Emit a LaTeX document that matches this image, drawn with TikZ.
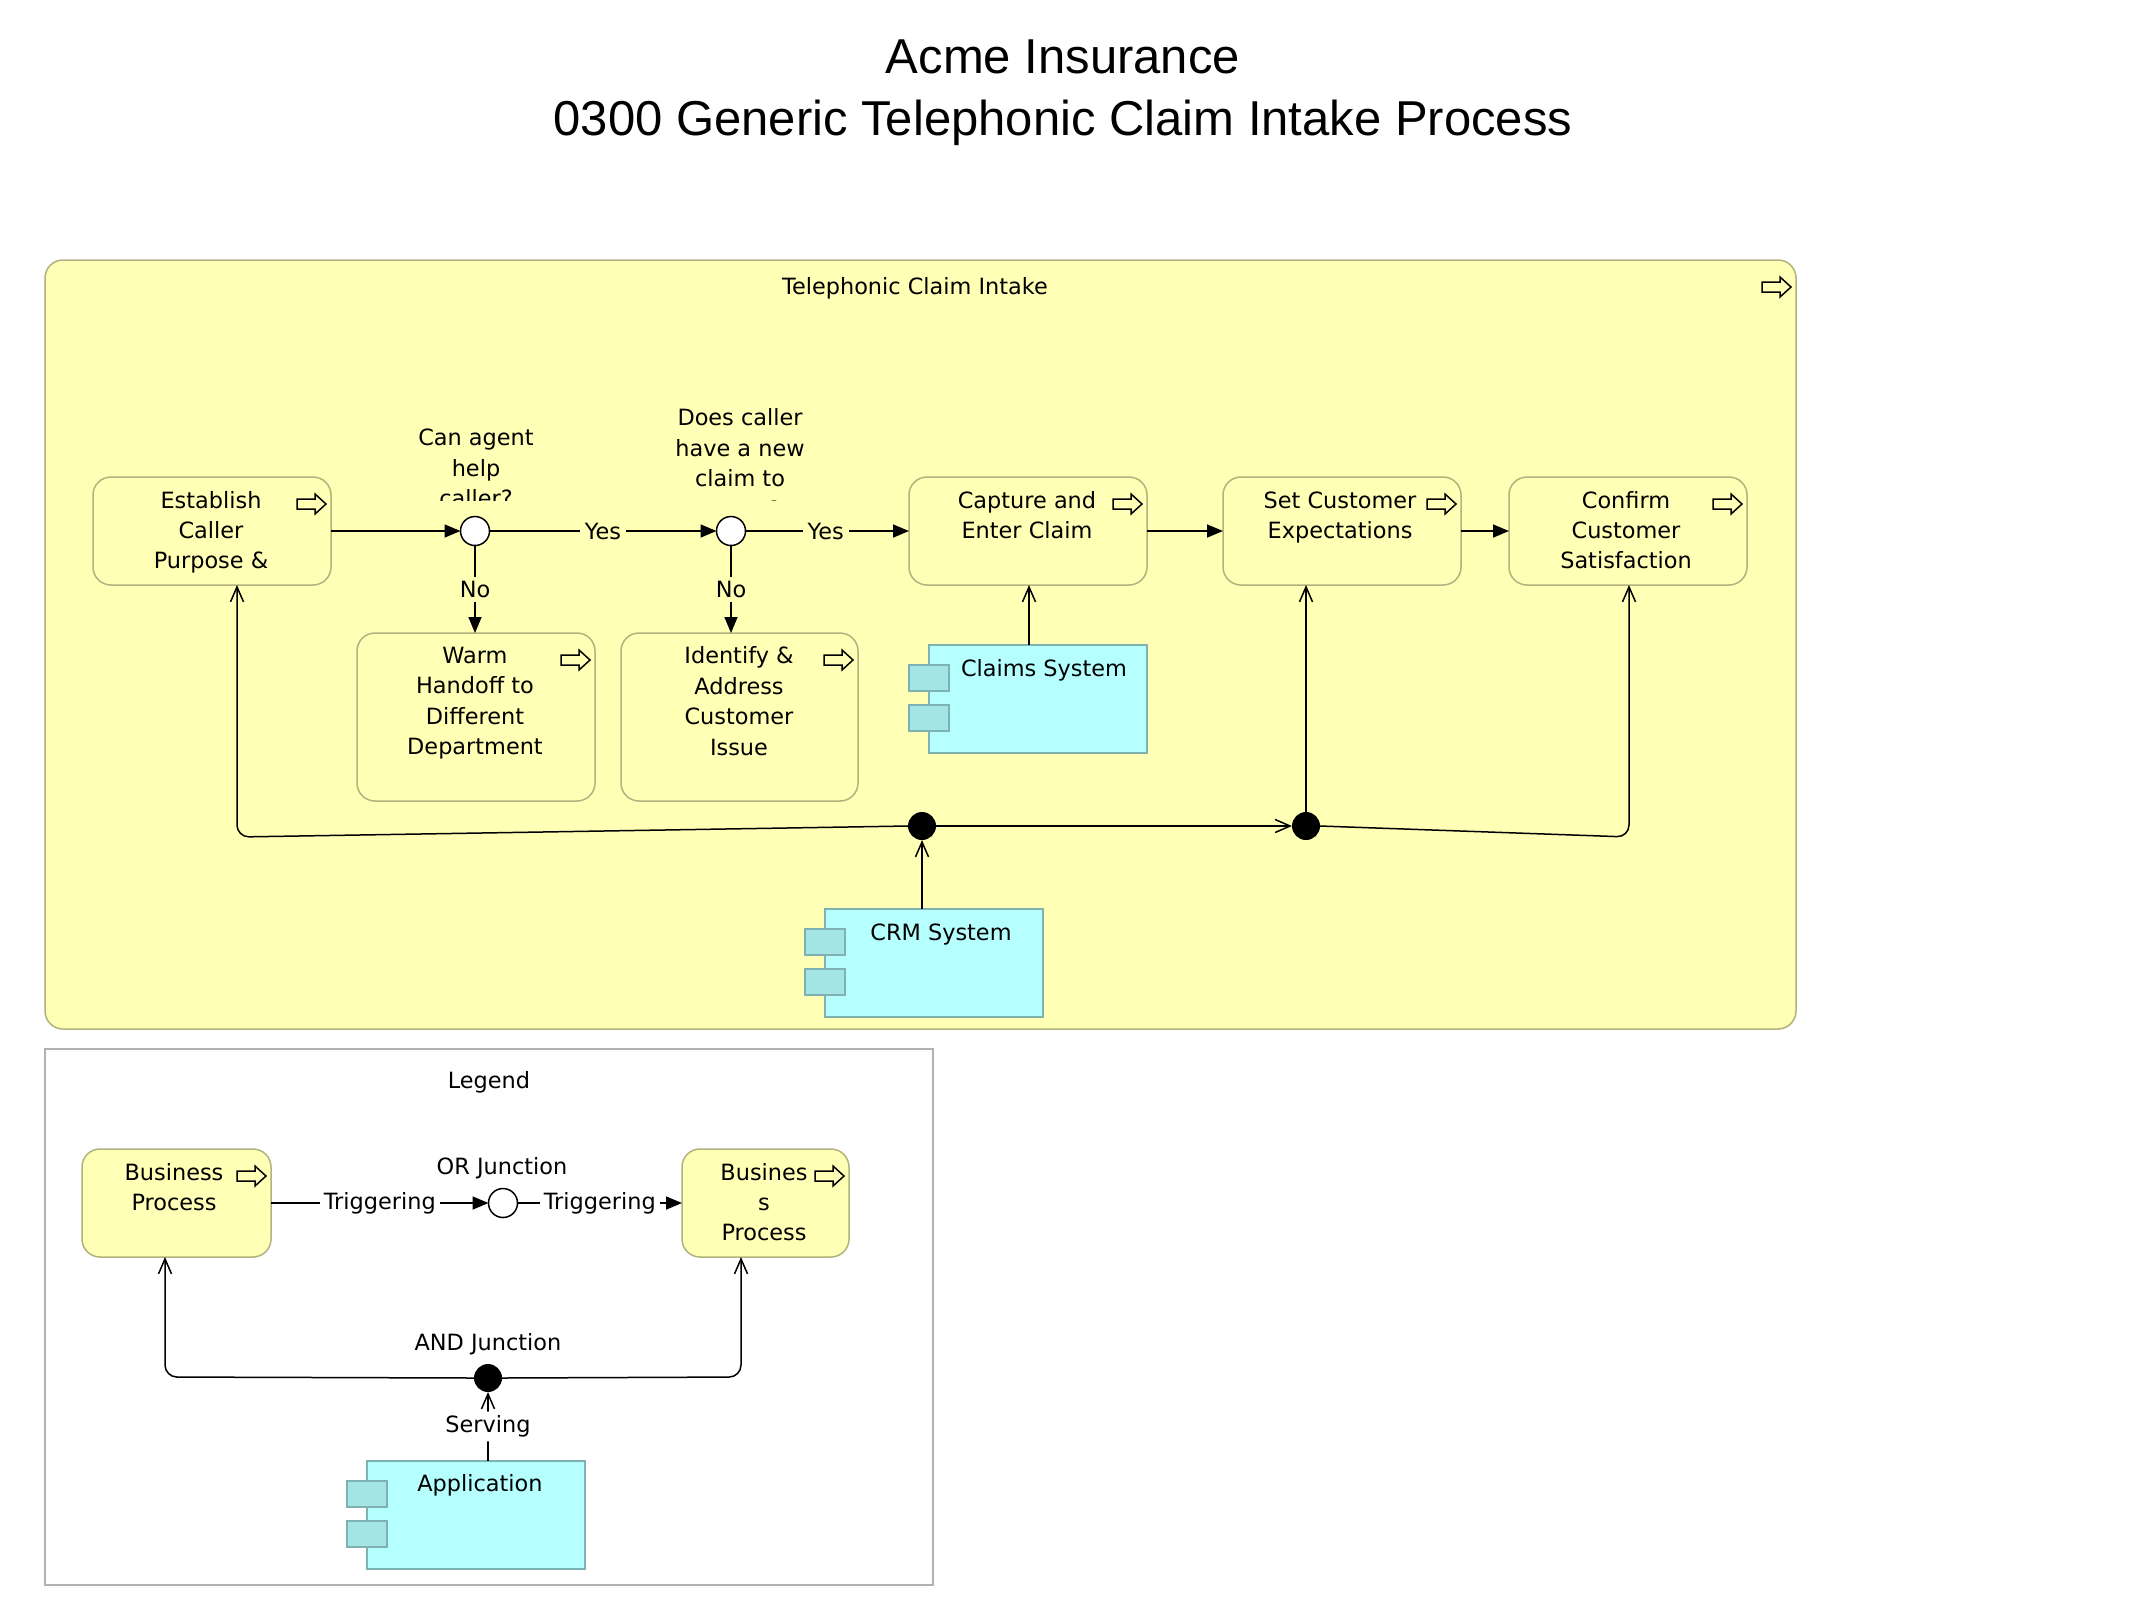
\documentclass[tikz,border=0pt]{standalone}
\usepackage{fontspec}
\setmainfont{DejaVu Sans}
\newfontfamily\titlefont{Liberation Sans}
\usetikzlibrary{arrows.meta,calc}
\definecolor{procfill}{HTML}{FFFFB5}
\definecolor{procline}{HTML}{B2B27E}
\definecolor{appfill}{HTML}{B5FFFF}
\definecolor{appline}{HTML}{7EB2B2}
\definecolor{tabfill}{HTML}{A3E5E5}
\definecolor{legline}{HTML}{B2B2B2}
\tikzset{
 areabox/.style={draw=procline,fill=procfill,line width=.75pt,rounded corners=9pt,inner sep=0pt,outer sep=0pt},
 legendbox/.style={draw=legline,fill=white,line width=.75pt,inner sep=0pt,outer sep=0pt},
 appbox/.style={draw=appline,fill=appfill,line width=.75pt,inner sep=0pt,outer sep=0pt},
 tabbox/.style={draw=appline,fill=tabfill,line width=.75pt,inner sep=0pt,outer sep=0pt},
 txt/.style={font=\fontsize{11.2pt}{15.2pt}\selectfont,align=center,inner sep=0pt,text depth=0pt},
 lab/.style={font=\fontsize{11.2pt}{15.2pt}\selectfont,fill=procfill,inner xsep=2.5pt,inner ysep=2pt},
 wlab/.style={lab,fill=white,inner xsep=2pt},
 orj/.style={circle,draw=black,fill=white,line width=.75pt,minimum size=14.5pt,inner sep=0pt,outer sep=0pt},
 andj/.style={circle,fill=black,minimum size=14pt,inner sep=0pt,outer sep=0pt},
 trig/.style={line width=.8pt,-{Triangle[length=8pt,width=6.5pt]}},
 serve/.style={line width=.75pt,-{Straight Barb[length=7.5pt,width=6.5pt]},rounded corners=6pt},
 plain/.style={line width=.75pt},
 icon/.style={draw=black,fill=procfill,line width=.75pt,line join=miter},
}
% name, x1,y1,x2,y2
\newcommand{\procbox}[5]{%
 \node[areabox,minimum width={(#4-#2)*0.5pt},minimum height={(#5-#3)*0.5pt}] (#1) at ({(#2+#4)/2},{(#3+#5)/2}) {};
 \begin{scope}[shift={(#1.north east)}]
  \path[icon] (-34,22) -- (-16,22) -- (-16,17) -- (-5,27) -- (-16,37) -- (-16,32) -- (-34,32) -- cycle;
 \end{scope}}
% name, x1(main left),y1,x2,y2
\newcommand{\compbox}[5]{%
 \node[appbox,minimum width={(#4-#2)*0.5pt},minimum height={(#5-#3)*0.5pt}] (#1) at ({(#2+#4)/2},{(#3+#5)/2}) {};
 \node[tabbox,minimum width=20.2pt,minimum height=13pt] (#1t1) at ({#2},{#3+33}) {};
 \node[tabbox,minimum width=20.2pt,minimum height=13pt] (#1t2) at ({#2},{#3+73}) {};}
\begin{document}
\begin{tikzpicture}[x=0.5pt,y=-0.5pt]
\useasboundingbox (0,0) rectangle (2130,1602);
\fill[white] (0,0) rectangle (2130,1602);
% title
\node[inner sep=0pt,align=center,font=\titlefont\fontsize{24.5pt}{31pt}\selectfont] (title) at (1063,93) {Acme Insurance\\0300 Generic Telephonic Claim Intake Process};
% main group
\procbox{frame}{45}{260}{1796}{1029}
\node[txt] (frametxt) at (915,286) {Telephonic Claim Intake};
% processes
\procbox{est}{93}{477}{331}{585}
\procbox{warm}{357}{633}{595}{801}
\procbox{iden}{621}{633}{858}{801}
\procbox{capt}{909}{477}{1147}{585}
\procbox{setc}{1223}{477}{1461}{585}
\procbox{conf}{1509}{477}{1747}{585}
\node[txt] (esttxt) at (211,530) {Establish\\Caller\\Purpose \&};
\node[txt] (warmtxt) at (475,701) {Warm\\Handoff to\\Different\\Department};
\node[txt] (identxt) at (739,701) {Identify \&\\Address\\Customer\\Issue};
\node[txt] (capttxt) at (1027,515) {Capture and\\Enter Claim};
\node[txt] (setctxt) at (1340,515) {Set Customer\\Expectations};
\node[txt] (conftxt) at (1626,530) {Confirm\\Customer\\Satisfaction};
% components
\compbox{claims}{929}{645}{1147}{753}
\node[txt] (claimstxt) at (1044,668) {Claims System};
\compbox{crm}{825}{909}{1043}{1017}
\node[txt] (crmtxt) at (941,932) {CRM System};
% junctions
\node[orj] (or1) at (475,531) {};
\node[orj] (or2) at (731,531) {};
\node[andj] (and1) at (922,826) {};
\node[andj] (and2) at (1306,826) {};
% clipped junction labels
\begin{scope}
 \clip (380,380) rectangle (860,500);
 \node[txt] (q1) at (476,468) {Can agent\\help\\caller?};
 \node[txt] (q2) at (740,463) {Does caller\\have a new\\claim to\\report?};
\end{scope}
% triggering
\draw[trig] (est.east) -- (or1.west);
\draw[trig] (or1.east) -- node[lab] (y1) {Yes} (or2.west);
\draw[trig] (or2.east) -- node[lab,pos=.49] (y2) {Yes} (capt.west);
\draw[trig] (or1.south) -- node[lab] (n1) {No} (or1|-warm.north);
\draw[trig] (or2.south) -- node[lab] (n2) {No} (or2|-iden.north);
\draw[trig] (capt.east) -- (setc.west);
\draw[trig] (setc.east) -- (conf.west);
% serving
\coordinate (b1) at (237,837);
\coordinate (b2) at (1629,837);
\draw[serve] (and1.west) -- (b1) -- (b1|-est.south);
\draw[serve] (and2.east) -- (b2) -- (b2|-conf.south);
\draw[serve] (and1.east) -- (and2.west);
\draw[serve] (and2.north) -- (and2|-setc.south);
\draw[serve] (crm.north-|and1) -- (and1.south);
\coordinate (c1) at (1029,600);
\draw[serve] (c1|-claims.north) -- (c1|-capt.south);
% legend
\node[legendbox,minimum width=444pt,minimum height=268pt] (legend) at (489,1317) {};
\node[txt] (legendtxt) at (489,1080) {Legend};
\procbox{bp1}{82}{1149}{271}{1257}
\procbox{bp2}{682}{1149}{849}{1257}
\node[txt] (bp1txt) at (174,1187) {Business\\Process};
\node[txt] (bp2txt) at (764,1202) {Busines\\s\\Process};
\compbox{appl}{367}{1461}{585}{1569}
\node[txt] (appltxt) at (480,1483) {Application};
\node[orj] (or3) at (503,1203) {};
\node[andj] (and3) at (488,1378) {};
\node[txt] (ortxt) at (502,1166) {OR Junction};
\node[txt] (andtxt) at (488,1342) {AND Junction};
\draw[trig] (bp1.east|-or3) -- node[wlab] (t1) {Triggering} (or3.west);
\draw[trig] (or3.east) -- node[wlab] (t2) {Triggering} (bp2.west|-or3);
\coordinate (b3) at (165,1377);
\coordinate (b4) at (741,1377);
\draw[serve] (and3.west) -- (b3) -- (b3|-bp1.south);
\draw[serve] (and3.east) -- (b4) -- (b4|-bp2.south);
\draw[serve] (appl.north-|and3) -- node[wlab] (s1) {Serving} (and3.south);
\end{tikzpicture}
\end{document}
